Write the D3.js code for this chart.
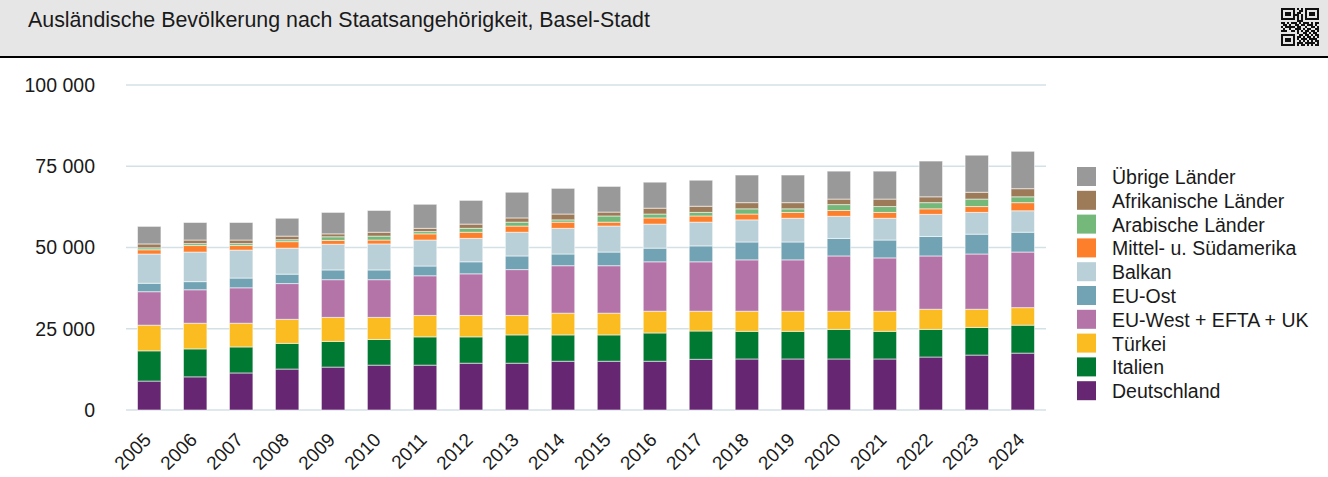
<!DOCTYPE html>
<html>
<head>
<meta charset="utf-8">
<script src="https://cdn.jsdelivr.net/npm/d3@7"></script>
<style>
  body { margin: 0; background: #fff; font-family: "Liberation Sans", Arial, sans-serif; }
  svg text { fill: #1a1a1a; }
</style>
</head>
<body>
<svg id="chart"></svg>
<script>
const years = ['2005', '2006', '2007', '2008', '2009', '2010', '2011', '2012', '2013', '2014',
  '2015', '2016', '2017', '2018', '2019', '2020', '2021', '2022', '2023', '2024'];

// values in 1000 persons
const deutschland = [8.9, 10.2, 11.4, 12.6, 13.2, 13.8, 13.8, 14.4, 14.4, 15.0, 15.0, 15.0, 15.6, 15.7, 15.7, 15.7, 15.7, 16.3, 16.9, 17.5];
const italien = [9.3, 8.6, 8.0, 7.9, 7.9, 7.9, 8.7, 8.1, 8.7, 8.1, 8.1, 8.7, 8.7, 8.5, 8.5, 9.1, 8.5, 8.5, 8.5, 8.6];
const tuerkei = [7.9, 7.9, 7.3, 7.4, 7.4, 6.8, 6.6, 6.6, 6.0, 6.7, 6.7, 6.7, 6.1, 6.2, 6.2, 5.6, 6.2, 6.2, 5.6, 5.4];
const euWest = [10.3, 10.3, 10.9, 11.0, 11.6, 11.6, 12.2, 12.8, 14.1, 14.6, 14.6, 15.2, 15.2, 15.8, 15.8, 17.0, 16.4, 16.4, 17.0, 17.1];
const euOst = [2.6, 2.5, 3.0, 2.9, 3.0, 3.0, 3.0, 3.7, 4.2, 3.6, 4.2, 4.2, 4.9, 5.5, 5.5, 5.4, 5.5, 6.0, 6.1, 6.1];
const balkan = [9.0, 9.1, 8.6, 8.0, 7.9, 8.0, 8.0, 7.2, 7.3, 7.9, 8.0, 7.4, 7.3, 6.8, 7.3, 6.8, 6.7, 6.8, 6.7, 6.6];
const mittelSued = [1.3, 2.0, 1.4, 2.0, 1.2, 1.2, 1.9, 1.9, 1.9, 1.9, 1.2, 1.9, 1.9, 1.8, 1.8, 1.8, 1.8, 1.7, 1.8, 2.5];
const arabisch = [0.6, 0.6, 0.6, 0.6, 1.1, 1.2, 0.7, 1.2, 1.2, 0.7, 1.9, 1.2, 1.1, 1.6, 1.1, 1.8, 1.8, 1.9, 2.3, 1.8];
const afrika = [1.2, 1.1, 1.1, 1.1, 0.9, 1.2, 1.0, 1.3, 1.3, 1.8, 1.2, 1.8, 1.9, 1.9, 1.9, 1.7, 2.3, 1.8, 2.1, 2.5];
const uebrige = [5.4, 5.4, 5.4, 5.5, 6.6, 6.7, 7.4, 7.3, 7.9, 7.9, 7.9, 8.0, 8.0, 8.5, 8.5, 8.6, 8.6, 11.0, 11.4, 11.5];

// bottom to top
const seriesNames = ['Deutschland', 'Italien', 'Türkei', 'EU-West + EFTA + UK', 'EU-Ost', 'Balkan',
  'Mittel- u. Südamerika', 'Arabische Länder', 'Afrikanische Länder', 'Übrige Länder'];
const seriesValues = [deutschland, italien, tuerkei, euWest, euOst, balkan, mittelSued, arabisch, afrika, uebrige];
const seriesColors = ['#662671', '#007a33', '#fbbc22', '#b474a8', '#72a3b5', '#b9d0d8',
  '#fd7f2c', '#74b87a', '#9e7b58', '#999999'];
const yTicks = [0, 25000, 50000, 75000, 100000];

const width = 1328;
const height = 477;

const svg = d3.select('#chart')
  .attr('width', width)
  .attr('height', height);

// Header band
svg.append('rect')
  .attr('x', 0).attr('y', 0)
  .attr('width', width).attr('height', 56)
  .attr('fill', '#e6e6e6');
svg.append('rect')
  .attr('x', 0).attr('y', 56)
  .attr('width', width).attr('height', 2)
  .attr('fill', '#000');
svg.append('text')
  .attr('x', 28).attr('y', 27)
  .attr('font-size', 21.4)
  .text('Ausländische Bevölkerung nach Staatsangehörigkeit, Basel-Stadt');

// little QR-like icon
const qr = [
  '1111111010101111111',
  '1000001001101000001',
  '1011101011001011101',
  '1011101110101011101',
  '1000001010101000001',
  '1111111010101111111',
  '0000000011100000000',
  '1101011101011101011',
  '0110100110110111010',
  '1011111011001001101',
  '0100100111010110011',
  '1110011010101101101',
  '0000000010011010110',
  '1111111001101101011',
  '1000001011010110101',
  '1011101010111011110',
  '1011101001010101011',
  '1000001011101111101',
  '1111111010110101011'
];
const qrG = svg.append('g').attr('transform', 'translate(1281,8)');
const cell = 2;
qr.forEach((row, r) => {
  row.split('').forEach((c, k) => {
    if (c === '1') {
      qrG.append('rect')
        .attr('x', k * cell).attr('y', r * cell)
        .attr('width', cell).attr('height', cell)
        .attr('fill', '#111');
    }
  });
});

// Chart area
const margin = { left: 126, right: 282, top: 85, bottom: 67 };
const plotW = width - margin.left - margin.right;
const plotH = height - margin.top - margin.bottom;

const g = svg.append('g')
  .attr('transform', `translate(${margin.left},${margin.top})`);

const x = d3.scaleBand()
  .domain(years)
  .range([0, plotW])
  .paddingInner(0.49)
  .paddingOuter(0.25);

const y = d3.scaleLinear()
  .domain([0, 100000])
  .range([plotH, 0]);

// Gridlines
g.selectAll('.grid')
  .data(yTicks)
  .enter()
  .append('line')
  .attr('class', 'grid')
  .attr('x1', 0).attr('x2', plotW)
  .attr('y1', d => y(d)).attr('y2', d => y(d))
  .attr('stroke', '#d3e1e7')
  .attr('stroke-width', 1.5);

// Y axis labels
const fmt = d => d3.format(',')(d).replace(/,/g, ' ');
const yAxis = d3.axisLeft(y)
  .tickValues(yTicks)
  .tickFormat(fmt)
  .tickSize(0)
  .tickPadding(31);
g.append('g')
  .call(yAxis)
  .call(s => s.select('.domain').remove())
  .selectAll('text')
  .attr('font-size', 19.5)
  .attr('font-family', '"Liberation Sans", Arial, sans-serif')
  .attr('fill', '#1a1a1a');

// Stack data
const rows = years.map((yr, i) => {
  const row = { year: yr };
  seriesNames.forEach((name, s) => { row[name] = seriesValues[s][i] * 1000; });
  return row;
});
const stacked = d3.stack().keys(seriesNames)(rows);

const layer = g.selectAll('.layer')
  .data(stacked)
  .enter()
  .append('g')
  .attr('class', 'layer')
  .attr('fill', (d, i) => seriesColors[i]);

layer.selectAll('rect')
  .data(d => d)
  .enter()
  .append('rect')
  .attr('x', d => x(d.data.year))
  .attr('width', x.bandwidth())
  .attr('y', d => y(d[1]))
  .attr('height', d => y(d[0]) - y(d[1]))
  .attr('stroke', 'rgba(255,255,255,0.55)')
  .attr('stroke-width', 1);

// X axis labels
const xAxis = d3.axisBottom(x).tickSize(0).tickPadding(0);
g.append('g')
  .attr('transform', `translate(0,${plotH})`)
  .call(xAxis)
  .call(s => s.select('.domain').remove())
  .selectAll('text')
  .attr('font-size', 19)
  .attr('font-family', '"Liberation Sans", Arial, sans-serif')
  .attr('fill', '#1a1a1a')
  .attr('text-anchor', 'end')
  .attr('y', 0)
  .attr('dy', null)
  .attr('transform', 'translate(3,31) rotate(-45)');

// Legend (top entry is the top of the stack)
const legendItems = seriesNames.map((n, i) => ({ name: n, color: seriesColors[i] })).reverse();
const legend = svg.append('g')
  .attr('transform', 'translate(1077,167)');

const item = legend.selectAll('.item')
  .data(legendItems)
  .enter()
  .append('g')
  .attr('class', 'item')
  .attr('transform', (d, i) => `translate(0,${i * 23.8})`);

item.append('rect')
  .attr('width', 19).attr('height', 19)
  .attr('fill', d => d.color);

item.append('text')
  .attr('x', 35).attr('y', 17)
  .attr('font-size', 19.5)
  .text(d => d.name);
</script>
</body>
</html>
